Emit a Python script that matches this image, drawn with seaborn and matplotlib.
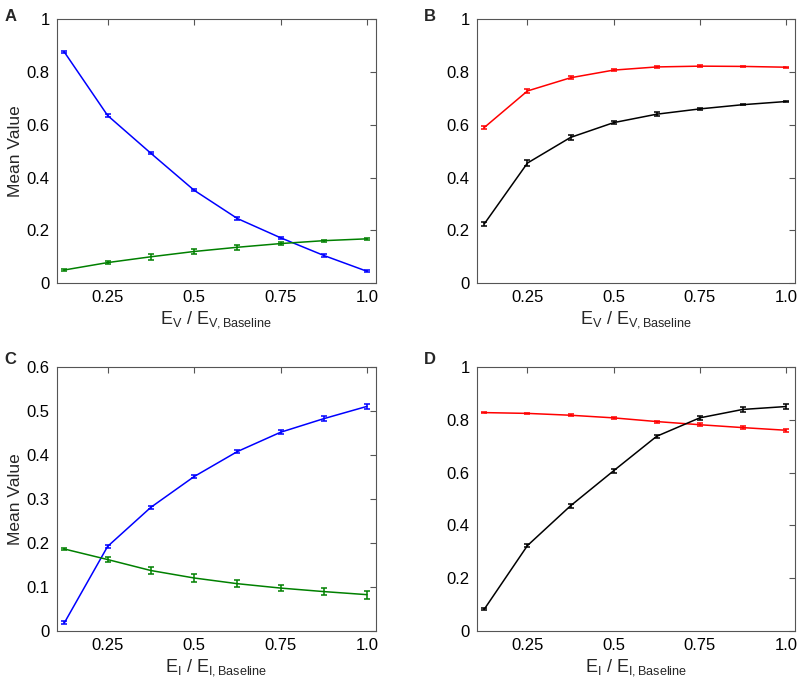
import numpy as np
import pandas as pd
import matplotlib
matplotlib.use("Agg")
import matplotlib.pyplot as plt
import seaborn as sns

sns.set_style("white")
plt.rcParams['font.family'] = ['Liberation Sans', 'DejaVu Sans']
plt.rcParams['mathtext.fontset'] = 'custom'
plt.rcParams['mathtext.rm'] = 'Liberation Sans'
plt.rcParams['mathtext.it'] = 'Liberation Sans'

x = [0.125, 0.25, 0.375, 0.5, 0.625, 0.75, 0.875, 1.0]

a_blue = [0.875, 0.635, 0.492, 0.352, 0.245, 0.172, 0.105, 0.045]
a_blue_err = [0.003, 0.004, 0.004, 0.004, 0.004, 0.004, 0.004, 0.004]
a_green = [0.050, 0.078, 0.100, 0.120, 0.136, 0.150, 0.161, 0.168]
a_green_err = [0.003, 0.007, 0.011, 0.008, 0.009, 0.007, 0.004, 0.003]

b_red = [0.590, 0.728, 0.778, 0.807, 0.819, 0.822, 0.821, 0.818]
b_red_err = [0.007, 0.007, 0.005, 0.004, 0.003, 0.003, 0.002, 0.002]
b_black = [0.225, 0.455, 0.552, 0.608, 0.640, 0.660, 0.676, 0.688]
b_black_err = [0.008, 0.013, 0.010, 0.007, 0.007, 0.005, 0.003, 0.003]

c_blue = [0.018, 0.192, 0.281, 0.351, 0.408, 0.452, 0.483, 0.511]
c_blue_err = [0.003, 0.004, 0.004, 0.004, 0.003, 0.005, 0.005, 0.005]
c_green = [0.186, 0.162, 0.137, 0.120, 0.107, 0.097, 0.089, 0.082]
c_green_err = [0.003, 0.006, 0.009, 0.009, 0.008, 0.007, 0.008, 0.009]

d_red = [0.828, 0.825, 0.818, 0.808, 0.794, 0.782, 0.771, 0.761]
d_red_err = [0.003, 0.003, 0.003, 0.003, 0.004, 0.005, 0.006, 0.006]
d_black = [0.082, 0.323, 0.474, 0.607, 0.738, 0.808, 0.840, 0.851]
d_black_err = [0.003, 0.005, 0.008, 0.007, 0.005, 0.007, 0.009, 0.009]

x_ticks = [0.25, 0.5, 0.75, 1.0]
x_ticklabels = ["0.25", "0.5", "0.75", "1.0"]
y_ticks_01 = [0, 0.2, 0.4, 0.6, 0.8, 1.0]
y_ticklabels_01 = ["0", "0.2", "0.4", "0.6", "0.8", "1"]
y_ticks_c = [0, 0.1, 0.2, 0.3, 0.4, 0.5, 0.6]
y_ticklabels_c = ["0", "0.1", "0.2", "0.3", "0.4", "0.5", "0.6"]

BLUE = "#0000ff"
GREEN = "#008000"
RED = "#ff0000"
BLACK = "#000000"

fig = plt.figure(figsize=(8.0, 6.84), dpi=100)

positions = {
    "A": [0.071, 0.586, 0.399, 0.386],
    "B": [0.596, 0.586, 0.3975, 0.386],
    "C": [0.071, 0.078, 0.399, 0.385],
    "D": [0.596, 0.078, 0.3975, 0.385],
}

panels = {
    "A": [(a_blue, a_blue_err, BLUE), (a_green, a_green_err, GREEN)],
    "B": [(b_red, b_red_err, RED), (b_black, b_black_err, BLACK)],
    "C": [(c_blue, c_blue_err, BLUE), (c_green, c_green_err, GREEN)],
    "D": [(d_red, d_red_err, RED), (d_black, d_black_err, BLACK)],
}

xlabel_V = r"$\mathregular{E_V\ /\ E_{V,Baseline}}$"
xlabel_I = r"$\mathregular{E_I\ /\ E_{I,Baseline}}$"

label_pos = {"A": (0.006, 0.987), "B": (0.530, 0.987), "C": (0.006, 0.486), "D": (0.530, 0.486)}

for key, pos in positions.items():
    ax = fig.add_axes(pos)
    for vals, errs, col in panels[key]:
        df = pd.DataFrame({"x": x, "y": vals})
        sns.lineplot(data=df, x="x", y="y", ax=ax, color=col, linewidth=1.1)
        ax.errorbar(x, vals, yerr=errs, fmt="none", ecolor=col, elinewidth=1.1,
                    capsize=2.5, capthick=1.1)
    ax.set_xlim(0.103, 1.026)
    if key == "C":
        ax.set_ylim(0, 0.6)
        ax.set_yticks(y_ticks_c)
        ax.set_yticklabels(y_ticklabels_c)
    else:
        ax.set_ylim(0, 1.0)
        ax.set_yticks(y_ticks_01)
        ax.set_yticklabels(y_ticklabels_01)
    ax.set_xticks(x_ticks)
    ax.set_xticklabels(x_ticklabels)
    ax.tick_params(direction="in", top=True, right=True, length=4, width=0.8,
                   color="#555555", labelsize=12, labelcolor="black", pad=5)
    for sp in ax.spines.values():
        sp.set_visible(True)
        sp.set_color("#555555")
        sp.set_linewidth(0.8)
    ax.set_xlabel(xlabel_V if key in ("A", "B") else xlabel_I, fontsize=13, labelpad=3)
    if key in ("A", "C"):
        ax.set_ylabel("Mean Value", fontsize=12.5, labelpad=3)
    else:
        ax.set_ylabel("")
    lx, ly = label_pos[key]
    fig.text(lx, ly, key, fontsize=12, fontweight="bold", ha="left", va="top")

fig.savefig("out.png", dpi=100)
